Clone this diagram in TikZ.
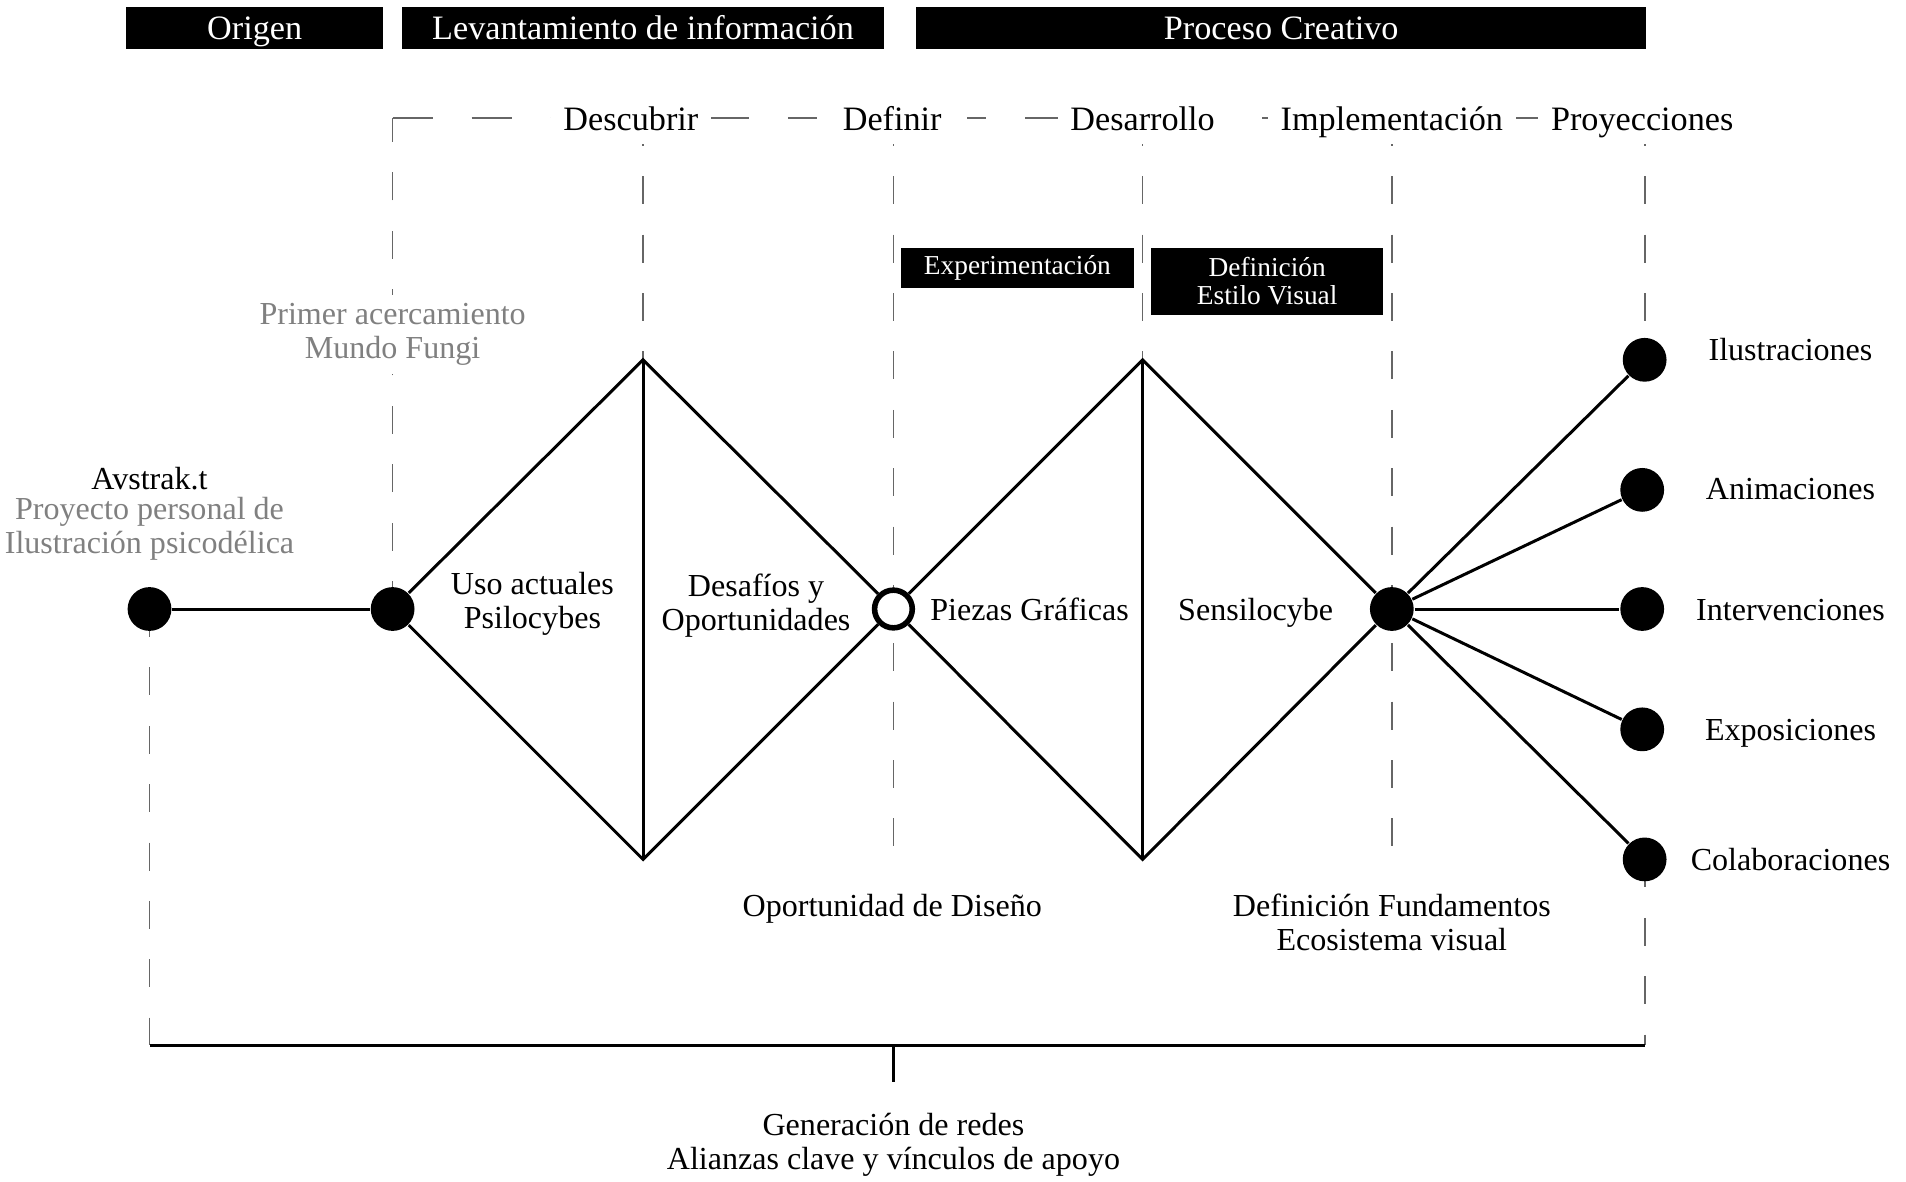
\documentclass[tikz,border=0pt]{standalone}
\usepackage{fontspec}
\setmainfont{Liberation Serif}
\usetikzlibrary{calc}

\begin{document}
\begin{tikzpicture}[x=0.01cm,y=-0.01cm,
    every node/.style={font=\fontsize{7.5}{8}\selectfont,align=center},
    dot/.style={circle,fill=black,inner sep=0pt,minimum size=0.36cm},
    hollow/.style={circle,draw=black,fill=white,line width=1.3pt,inner sep=0pt,minimum size=0.31cm},
    guide/.style={black!60,line width=0.4pt,dash pattern=on 0.23cm off 0.25cm},
    guideh/.style={black!60,line width=0.4pt,dash pattern=on 0.33cm off 0.32cm},
    stage/.style={fill=white,font=\fontsize{8}{8}\selectfont,inner xsep=3pt,inner ysep=1pt,text height=1.6ex,text depth=0.45ex},
    phase/.style={fill=black,text=white,font=\fontsize{8}{8}\selectfont,inner sep=0pt,minimum height=0.34cm,text height=1.6ex,text depth=0.45ex},
    tag/.style={fill=black,text=white,font=\fontsize{6.4}{6.6}\selectfont,inner sep=0pt},
    note/.style={text=black!50},
    flat/.style={text height=1.6ex,text depth=0.45ex},
    link/.style={line width=0.7pt}]
    \useasboundingbox (0,0) rectangle (1568,972);

    % fases
    \node[phase,minimum width=2.11cm] (origen) at (209.5,23) {Origen};
    \node[phase,minimum width=3.96cm] (levant) at (529,23) {Levantamiento de información};
    \node[phase,minimum width=6cm] (proceso) at (1054,23) {Proceso Creativo};

    \coordinate (d1t) at (529,296);
    \coordinate (d1b) at (529,707);
    \coordinate (d2t) at (940,296);
    \coordinate (d2b) at (940,707);

    % guias
    \draw[guide] (323,501) -- (323,97);
    \draw[guideh] (323,97) -- (1353,97);
    \draw[guide] (1353,97) -- (1353,296);
    \draw[guide] (529,97) -- (d1t);
    \draw[guide] (940,97) -- (d2t);
    \draw[guide] (735,97) -- (735,720);
    \draw[guide] (1145,97) -- (1145,720);
    \draw[guide] (123,501) -- (123,860);
    \draw[guide] (1353,707) -- (1353,860);

    \node[stage] (descubrir) at (519,98) {Descubrir};
    \node[stage,inner xsep=6pt] (definir) at (734,98) {Definir};
    \node[stage] (desarrollo) at (940,98) {Desarrollo};
    \node[stage] (implem) at (1145,98) {Implementación};
    \node[stage] (proyec) at (1351,98) {Proyecciones};

    \node[tag,minimum width=1.92cm,minimum height=0.33cm] (experim) at (837,220.5) {Experimentación};
    \node[tag,minimum width=1.91cm,minimum height=0.55cm] (estilo) at (1042.5,231.5) {Definición\\Estilo Visual};

    % hitos
    \node[dot] (avs) at (123,501) {};
    \node[dot] (fungi) at (323,501) {};
    \node[hollow] (def) at (735,501) {};
    \node[dot] (imp) at (1145,501) {};
    \node[dot] (ilu) at (1353,296) {};
    \node[dot] (ani) at (1351,403) {};
    \node[dot] (int) at (1351,501) {};
    \node[dot] (exp) at (1351,600) {};
    \node[dot] (col) at (1353,707) {};

    \draw[link] (avs) -- (fungi);
    \draw[link] (fungi) -- (d1t) -- (def) -- (d1b) -- (fungi);
    \draw[link] (d1t) -- (d1b);
    \draw[link] (def) -- (d2t) -- (imp) -- (d2b) -- (def);
    \draw[link] (d2t) -- (d2b);
    \foreach \n in {ilu,ani,int,exp,col}
        \draw[link] (imp) -- (\n);

    % textos
    \node[flat] (avst) at (123,393) {Avstrak.t};
    \node[note] (personal) at (123,435) {Proyecto personal de\\Ilustración psicodélica};
    \node[note,fill=white,inner sep=2pt] (primer) at (323,275) {Primer acercamiento\\Mundo Fungi};
    \node (usos) at (438,497) {Uso actuales\\Psilocybes};
    \node (desafios) at (622,498) {Desafíos y\\Oportunidades};
    \node[flat] (piezas) at (847,501) {Piezas Gráficas};
    \node[flat] (sensi) at (1033,501) {Sensilocybe};
    \node[flat] (oport) at (734,745) {Oportunidad de Diseño};
    \node (fundam) at (1145,758.5) {Definición Fundamentos\\Ecosistema visual};

    \foreach \y/\t/\nm in {287/Ilustraciones/tilu,402/Animaciones/tani,501/Intervenciones/tint,600/Exposiciones/texp,707/Colaboraciones/tcol}
        \node[flat] (\nm) at (1473,\y) {\t};

    % redes
    \coordinate (bl) at (123,860);
    \coordinate (br) at (1353,860);
    \coordinate (bm) at (735,860);
    \draw[link] (bl) -- (br);
    \draw[link] (bm) -- ++(0,30) coordinate (bt);
    \node (redes) at (735,942) {Generación de redes\\Alianzas clave y vínculos de apoyo};
\end{tikzpicture}
\end{document}
